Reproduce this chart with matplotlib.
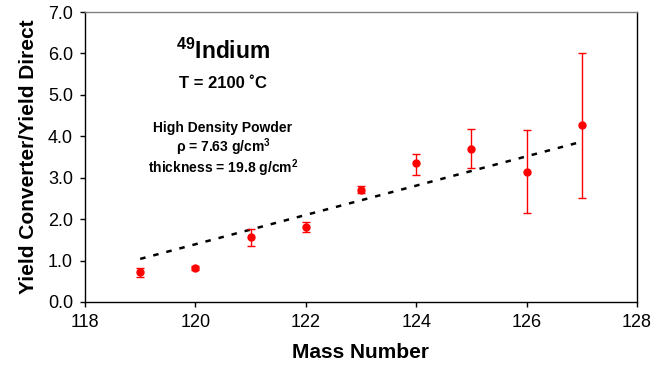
import matplotlib
matplotlib.use("Agg")
import matplotlib.pyplot as plt

plt.rcParams['font.family'] = ['Liberation Sans', 'DejaVu Sans']
plt.rcParams['mathtext.default'] = 'regular'

# measured values (mass number vs yield ratio)
mass = [119, 120, 121, 122, 123, 124, 125, 126, 127]
ratio = [0.72, 0.82, 1.56, 1.80, 2.71, 3.36, 3.70, 3.14, 4.28]
ratio_hi = [0.81, 0.87, 1.77, 1.93, 2.80, 3.58, 4.17, 4.14, 6.00]
ratio_lo = [0.60, 0.77, 1.35, 1.69, 2.62, 3.07, 3.23, 2.14, 2.51]

# dashed trend line as drawn
trend_x = [119, 127]
trend_y = [1.04, 3.87]

xticks = [118, 120, 122, 124, 126, 128]
yticks = [0.0, 1.0, 2.0, 3.0, 4.0, 5.0, 6.0, 7.0]

err = [[r - lo for r, lo in zip(ratio, ratio_lo)],
       [hi - r for r, hi in zip(ratio, ratio_hi)]]

fig = plt.figure(figsize=(6.66, 3.67), dpi=100)
ax = fig.add_axes([85 / 666, 65 / 367, 552 / 666, 290 / 367])

ax.plot(trend_x, trend_y, color='black', lw=1.8, ls=(0, (2.2, 3.2)))
ax.errorbar(mass, ratio, yerr=err, fmt='o', color='#ff0000', ms=5,
            elinewidth=1.0, capsize=3.2, capthick=1.0, zorder=3)

ax.set_xlim(118, 128)
ax.set_ylim(0, 7)
ax.set_xticks(xticks)
ax.set_yticks(yticks)
ax.set_yticklabels([f"{v:.1f}" for v in yticks])
ax.tick_params(direction='out', length=3.6, width=1, labelsize=13, pad=5)

for s in ['left', 'bottom', 'right']:
    ax.spines[s].set_color('black')
    ax.spines[s].set_linewidth(1.0)
ax.spines['top'].set_color('#808080')
ax.spines['top'].set_linewidth(1.0)

ax.set_xlabel("Mass Number", fontsize=15, fontweight='bold', labelpad=9)
ax.set_ylabel("Yield Converter/Yield Direct", fontsize=15, fontweight='bold', labelpad=7)

ax.text(120.5, 5.87, "$^{49}$Indium", fontsize=16.5, fontweight='bold',
        ha='center', va='baseline')
ax.text(120.49, 5.16, "T = 2100 ˚C", fontsize=12, fontweight='bold',
        ha='center', va='baseline')
ax.text(120.5, 4.11, "High Density Powder", fontsize=10, fontweight='bold',
        ha='center', va='baseline')
ax.text(120.5, 3.63, "ρ = 7.63 g/cm$^3$", fontsize=10, fontweight='bold',
        ha='center', va='baseline')
ax.text(120.5, 3.11, "thickness = 19.8 g/cm$^2$", fontsize=10, fontweight='bold',
        ha='center', va='baseline')

fig.savefig("out.png", dpi=100)
